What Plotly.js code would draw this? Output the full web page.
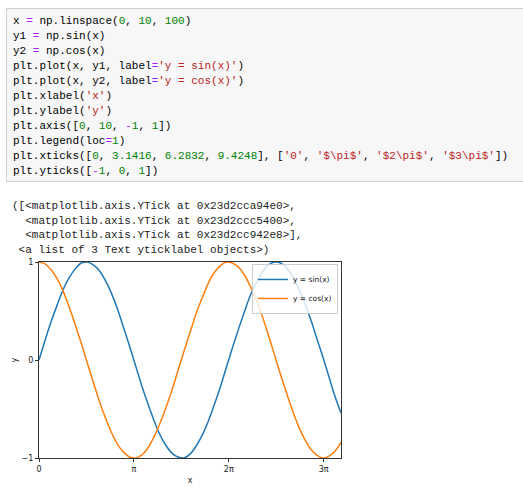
<!DOCTYPE html>
<html>
<head>
<meta charset="utf-8">
<script src="https://cdn.plot.ly/plotly-3.0.1.min.js"></script>
<style>
  body { margin: 0; background: #fff; width: 523px; height: 496px; overflow: hidden; position: relative; }
  .cell { position: absolute; left: 6px; top: 8px; width: 530px; height: 174px; background: #f7f7f7;
          border: 1px solid #cfcfcf; box-sizing: border-box; }
  .code { font-family: "Liberation Mono", "DejaVu Sans Mono", monospace; font-size: 11px; line-height: 15px; }
  .code div { white-space: pre; height: 15px; }
  .cell .code { position: absolute; left: 6px; top: 5px; color: #000; }
  .out { position: absolute; left: 12px; top: 199px; color: #222; z-index: 2; }
  .out div { height: 14.5px; }
  .o { color: #aa22ff; }
  .n { color: #008000; }
  .s { color: #ba2121; }
  #plot { position: absolute; left: 0; top: 250px; width: 523px; height: 246px; z-index: 1; }
</style>
</head>
<body>
<div class="cell"><div class="code">
<div>x <span class="o">=</span> np.linspace(<span class="n">0</span>, <span class="n">10</span>, <span class="n">100</span>)</div>
<div>y1 <span class="o">=</span> np.sin(x)</div>
<div>y2 <span class="o">=</span> np.cos(x)</div>
<div>plt.plot(x, y1, label<span class="o">=</span><span class="s">'y = sin(x)'</span>)</div>
<div>plt.plot(x, y2, label<span class="o">=</span><span class="s">'y = cos(x)'</span>)</div>
<div>plt.xlabel(<span class="s">'x'</span>)</div>
<div>plt.ylabel(<span class="s">'y'</span>)</div>
<div>plt.axis([<span class="n">0</span>, <span class="n">10</span>, <span class="o">-</span><span class="n">1</span>, <span class="n">1</span>])</div>
<div>plt.legend(loc<span class="o">=</span><span class="n">1</span>)</div>
<div>plt.xticks([<span class="n">0</span>, <span class="n">3.1416</span>, <span class="n">6.2832</span>, <span class="n">9.4248</span>], [<span class="s">'0'</span>, <span class="s">'$\pi$'</span>, <span class="s">'$2\pi$'</span>, <span class="s">'$3\pi$'</span>])</div>
<div>plt.yticks([<span class="o">-</span><span class="n">1</span>, <span class="n">0</span>, <span class="n">1</span>])</div>
</div></div>
<div class="code out">
<div>([&lt;matplotlib.axis.YTick at 0x23d2cca94e0&gt;,</div>
<div>  &lt;matplotlib.axis.YTick at 0x23d2ccc5400&gt;,</div>
<div>  &lt;matplotlib.axis.YTick at 0x23d2cc942e8&gt;],</div>
<div> &lt;a list of 3 Text yticklabel objects&gt;)</div>
</div>
<div id="plot"></div>
<script>
// values
let xValues = [0,0.2,0.4,0.6,0.8,1,1.2,1.4,1.6,1.8,2,2.2,2.4,2.6,2.8,3,3.2,3.4,3.6,3.8,4,4.2,4.4,4.6,4.8,5,
  5.2,5.4,5.6,5.8,6,6.2,6.4,6.6,6.8,7,7.2,7.4,7.6,7.8,8,8.2,8.4,8.6,8.8,9,9.2,9.4,9.6,9.8,10];
let sinValues = [0,0.20,0.39,0.56,0.72,0.84,0.93,0.99,1.00,0.97,0.91,0.81,0.68,0.52,0.33,0.14,-0.06,-0.26,-0.44,-0.61,-0.76,
  -0.87,-0.95,-0.99,-1.00,-0.96,-0.88,-0.77,-0.63,-0.46,-0.28,-0.08,0.12,0.31,0.49,0.66,0.79,0.90,0.97,1.00,0.99,
  0.94,0.85,0.73,0.58,0.41,0.22,0.03,-0.17,-0.37,-0.54];
let cosValues = [1.00,0.98,0.92,0.83,0.70,0.54,0.36,0.17,-0.03,-0.23,-0.42,-0.59,-0.74,-0.86,-0.94,-0.99,-1.00,-0.97,-0.90,-0.79,-0.65,
  -0.49,-0.31,-0.11,0.09,0.28,0.47,0.63,0.78,0.89,0.96,1.00,0.99,0.95,0.87,0.75,0.61,0.44,0.25,0.05,-0.15,
  -0.34,-0.52,-0.68,-0.81,-0.91,-0.97,-1.00,-0.98,-0.93,-0.84];
let xTicks = [0, 3.1416, 6.2832, 9.4248];
let xTickLabels = ['0', 'π', '2π', '3π'];
let yTicks = [-1, 0, 1];

let data = [
  {x: xValues, y: sinValues, mode: 'lines', name: 'y = sin(x)', line: {color: '#1f77b4', width: 1.5, shape: 'spline'}},
  {x: xValues, y: cosValues, mode: 'lines', name: 'y = cos(x)', line: {color: '#ff7f0e', width: 1.5, shape: 'spline'}}
];

let axisStyle = {
  showline: true, linecolor: '#333', linewidth: 1, mirror: true, showgrid: false, zeroline: false,
  ticks: 'outside', ticklen: 3, tickcolor: '#333', tickfont: {size: 8, color: '#222'}
};

let layout = {
  width: 523, height: 246,
  margin: {l: 39, r: 182, t: 12, b: 38},
  paper_bgcolor: 'rgba(0,0,0,0)', plot_bgcolor: '#fff',
  font: {family: 'DejaVu Sans, sans-serif'},
  showlegend: true,
  legend: {x: 0.99, y: 0.99, xanchor: 'right', yanchor: 'top', bgcolor: 'rgba(255,255,255,0.8)',
           bordercolor: '#ccc', borderwidth: 1, font: {size: 7.5, color: '#222'}, itemwidth: 30, tracegroupgap: 0},
  xaxis: Object.assign({}, axisStyle, {range: [0, 10], tickvals: xTicks, ticktext: xTickLabels,
           title: {text: 'x', font: {size: 8, color: '#222'}, standoff: 4}}),
  yaxis: Object.assign({}, axisStyle, {range: [-1, 1], tickvals: yTicks,
           title: {text: 'y', font: {size: 8, color: '#222'}, standoff: 2}})
};

Plotly.newPlot('plot', data, layout, {displayModeBar: false, staticPlot: true});
</script>
</body>
</html>
